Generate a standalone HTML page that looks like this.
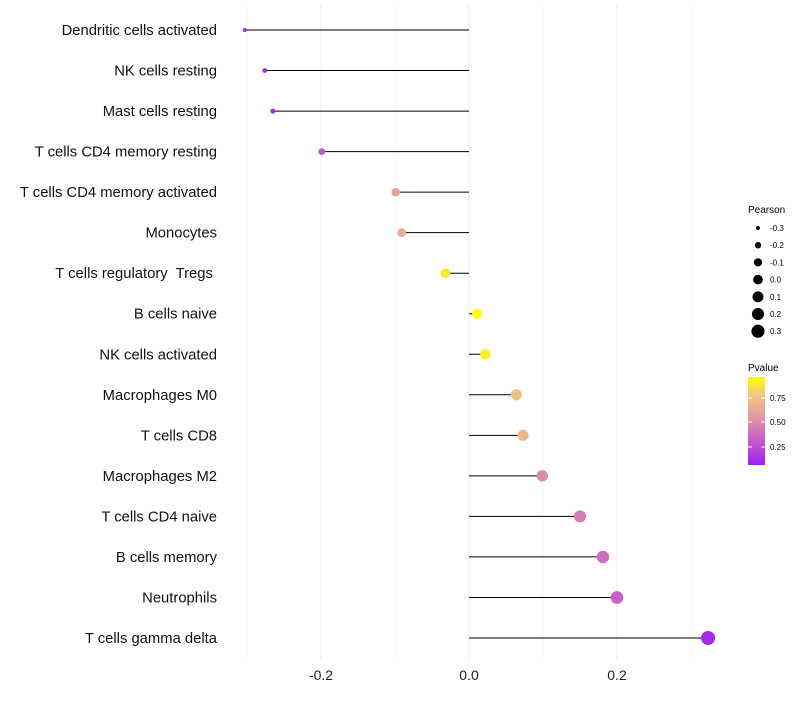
<!DOCTYPE html>
<html><head><meta charset="utf-8"><style>
body{margin:0;background:#fff;}
svg{font-family:"Liberation Sans",sans-serif;}
text{white-space:pre;}
</style></head><body>
<svg width="800" height="700">
<defs><linearGradient id="pg" x1="0" y1="1" x2="0" y2="0">
<stop offset="0" stop-color="#a020f0"/><stop offset="0.3" stop-color="#c860c8"/><stop offset="0.55" stop-color="#e09aa0"/><stop offset="0.8" stop-color="#f2c880"/><stop offset="1" stop-color="#ffff00"/>
</linearGradient></defs>
<g id="grid"></g><g id="marks"></g><g id="labels"></g><g id="xaxis"></g>
<g id="sleg"><text x="748" y="213" font-size="10">Pearson</text></g>
<g>
<text x="748" y="371" font-size="10">Pvalue</text>
<rect x="748" y="377" width="17" height="88" fill="url(#pg)"/>
<g font-size="8"><text x="770" y="401">0.75</text><text x="770" y="425">0.50</text><text x="770" y="450">0.25</text></g>
<g stroke="#fff" stroke-width="1"><line x1="748" x2="752" y1="398" y2="398"/><line x1="761" x2="765" y1="398" y2="398"/><line x1="748" x2="752" y1="422" y2="422"/><line x1="761" x2="765" y1="422" y2="422"/><line x1="748" x2="752" y1="447" y2="447"/><line x1="761" x2="765" y1="447" y2="447"/></g>
</g>
</svg>
<script>
const categories=["Dendritic cells activated","NK cells resting","Mast cells resting","T cells CD4 memory resting","T cells CD4 memory activated","Monocytes","T cells regulatory  Tregs ","B cells naive","NK cells activated","Macrophages M0","T cells CD8","Macrophages M2","T cells CD4 naive","B cells memory","Neutrophils","T cells gamma delta"];
const pearson=[-0.303,-0.276,-0.265,-0.199,-0.099,-0.091,-0.032,0.011,0.022,0.064,0.073,0.099,0.150,0.181,0.200,0.323];
const pvalue=[0.03,0.05,0.06,0.25,0.6,0.65,0.92,1.0,0.95,0.75,0.72,0.5,0.42,0.35,0.3,0.04];
const ticks=[-0.2,0,0.2];
const minorTicks=[-0.3,-0.1,0.1,0.3];
const legendVals=[-0.3,-0.2,-0.1,0.0,0.1,0.2,0.3];
const NS="http://www.w3.org/2000/svg";
const x=v=>469+v*740;
const y=i=>30+i*(608/15);
const r=v=>Math.sqrt(Math.max(2,25.8+72.6*v));
function col(p){const stops=[[0,[160,32,240]],[0.3,[200,96,200]],[0.55,[224,154,160]],[0.8,[242,200,128]],[1,[255,255,0]]];
for(let i=1;i<stops.length;i++){if(p<=stops[i][0]){const a=stops[i-1],b=stops[i],t=(p-a[0])/(b[0]-a[0]);return"rgb("+a[1].map((c,k)=>Math.round(c+(b[1][k]-c)*t)).join(",")+")";}}return"rgb(255,255,0)";}
function mk(t,a,p){const e=document.createElementNS(NS,t);for(const k in a)e.setAttribute(k,a[k]);p.appendChild(e);return e;}
const g=document.getElementById("grid"),m=document.getElementById("marks"),L=document.getElementById("labels"),X=document.getElementById("xaxis"),S=document.getElementById("sleg");
minorTicks.forEach(v=>{const l=mk("line",{x1:x(v),x2:x(v),y1:5,y2:660,stroke:"#f4f4f4","stroke-width":0.6},g);

});
ticks.forEach(v=>{const l=mk("line",{x1:x(v),x2:x(v),y1:5,y2:660,stroke:"#ebebeb","stroke-width":1},g);


const t=mk("text",{x:x(v),y:680,"font-size":14,"text-anchor":"middle",fill:"#222"},X);t.textContent=v===0?"0.0":v.toFixed(1);

});
categories.forEach((c,i)=>{
const ln=mk("line",{x1:x(0),x2:x(pearson[i]),y1:y(i),y2:y(i),stroke:"#000","stroke-width":1},m);


const d=mk("circle",{cx:x(pearson[i]),cy:y(i),r:r(pearson[i]),fill:col(pvalue[i])},m);


const t=mk("text",{x:217,y:y(i)+5,"font-size":14.8,"text-anchor":"end",fill:"#111"},L);t.textContent=c;

});
legendVals.forEach((v,i)=>{const cy=228+i*17.2;
const d=mk("circle",{cx:758,cy:cy,r:r(v)*0.95,fill:"#000"},S);


const t=mk("text",{x:770,y:cy+3,"font-size":8},S);t.textContent=v.toFixed(1);

});
</script>
</body></html>
